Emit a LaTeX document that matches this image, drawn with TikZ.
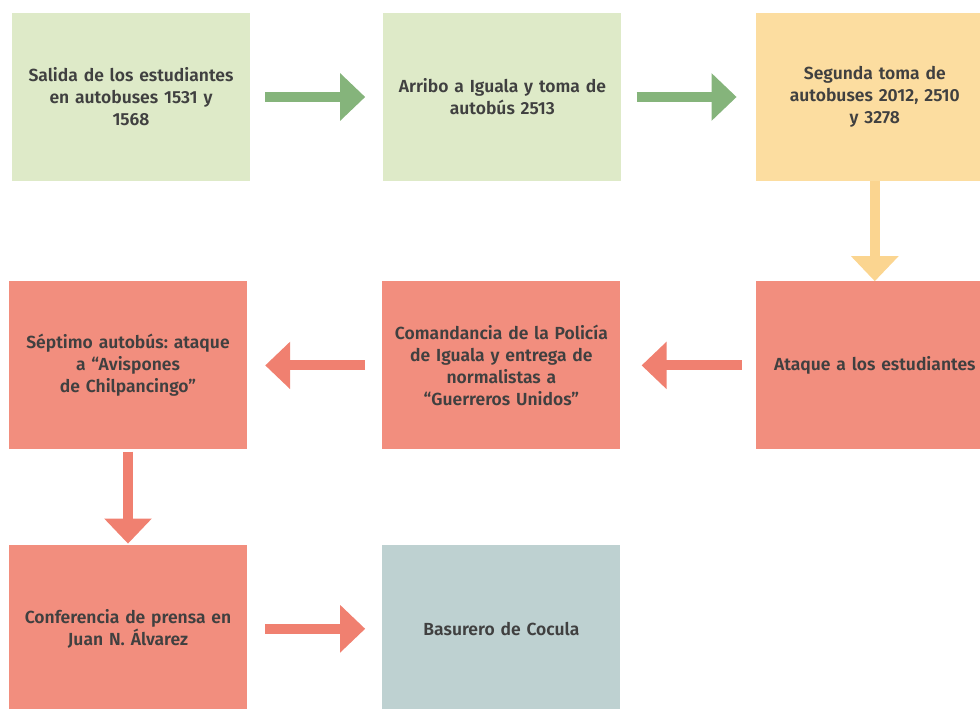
\documentclass[tikz,border=0pt]{standalone}
\usepackage{fontspec}
\setmainfont{Fira Sans}[BoldFont=* SemiBold]
\usepackage{xcolor}
\usetikzlibrary{positioning,arrows.meta}
\definecolor{verdecaja}{HTML}{DEEAC8}
\definecolor{verdeflecha}{HTML}{85B47B}
\definecolor{amarillocaja}{HTML}{FCDDA0}
\definecolor{amarilloflecha}{HTML}{FBD590}
\definecolor{rojocaja}{HTML}{F28E7E}
\definecolor{rojoflecha}{HTML}{F08070}
\definecolor{griscaja}{HTML}{BED1D1}
\definecolor{texto}{HTML}{404040}
\frenchspacing
\tikzset{
  paso/.style={
    rectangle,
    minimum width=238pt,
    minimum height=168pt,
    inner sep=3pt,
    text width=232pt,
    align=center,
    text=texto,
    font=\bfseries\fontsize{17.5}{22}\selectfont},
  flecha/.style={draw, line width=10pt, -{Triangle[length=25pt,width=46pt]}},
}
\begin{document}
\begin{tikzpicture}[x=1pt, y=-1pt, node distance=133pt]
    \useasboundingbox (0,0) rectangle (980,709);
    \clip (0,0) rectangle (980,709);

    \node[paso, fill=verdecaja] (salida) at (131,97) {Salida de los estudiantes\\ en autobuses 1531 y\\ 1568};
    \node[paso, fill=verdecaja, right=of salida] (arribo) {Arribo a Iguala y toma de\\ autobús 2513};
    \node[paso, fill=amarillocaja, right=134pt of arribo] (segunda) {Segunda toma de\\ autobuses 2012, 2510\\ y 3278};

    \node[paso, fill=rojocaja, below=100pt of segunda] (ataque) {Ataque a los estudiantes};
    \node[paso, fill=rojocaja, left=135pt of ataque] (comandancia) {Comandancia de la Policía\\ de Iguala y entrega de\\ normalistas a\\ “Guerreros Unidos”};
    \node[paso, fill=rojocaja, left=135pt of comandancia] (septimo) {Séptimo autobús: ataque\\ a “Avispones\\ de Chilpancingo”};

    \node[paso, fill=rojocaja, below=95pt of septimo] (conferencia) {Conferencia de prensa en\\ Juan N. Álvarez};
    \node[paso, fill=griscaja, right=135pt of conferencia] (basurero) {Basurero de Cocula};

    \path[flecha, verdeflecha, shorten <=15pt, shorten >=18pt] (salida) -- (arribo);
    \path[flecha, verdeflecha, shorten <=15pt, shorten >=19pt] (arribo) -- (segunda);
    \path[flecha, amarilloflecha] (segunda) -- (ataque);
    \path[flecha, rojoflecha, shorten <=14pt, shorten >=21pt] (ataque) -- (comandancia);
    \path[flecha, rojoflecha, shorten <=17pt, shorten >=18pt] (comandancia) -- (septimo);
    \path[flecha, rojoflecha, shorten <=2pt, shorten >=1pt] (septimo) -- (conferencia);
    \path[flecha, rojoflecha, shorten <=18pt, shorten >=17pt] (conferencia) -- (basurero);

\end{tikzpicture}
\end{document}
